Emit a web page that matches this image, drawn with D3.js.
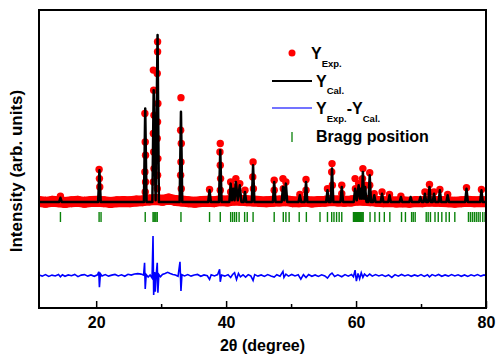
<!DOCTYPE html>
<html>
<head>
<meta charset="utf-8">
<script src="https://cdn.jsdelivr.net/npm/d3@7"></script>
<style>
  body { margin: 0; background: #fff; }
  svg { display: block; }
  text { font-family: "Liberation Sans", Arial, sans-serif; font-weight: bold; }
</style>
</head>
<body>
<div id="graph"></div>
<script>

// x tick labels
var xTicks = [20, 40, 60, 80];
var xMinorTicks = [30, 50, 70];

// experimental background (2theta, intensity)
var yExpBg = [
  [11.2,0.3],[12.2,-0.2],[13.2,0.4],[14.2,0.1],[15.2,-0.3],[16.2,0.2],[17.2,0.4],[18.2,-0.2],
  [19.2,0.3],[20.2,0.5],[21.2,0.2],[22.2,-0.3],[23.2,0.1],[24.2,0.3],[25.2,0.2],[26.2,0.6],
  [27.2,0.8],[28.2,1.2],[29.2,1.5],[30.2,1.0],[31.2,1.8],[32.2,0.9],[33.2,0.6],[34.2,0.2],
  [35.2,-0.2],[36.2,0.3],[37.2,0.5],[38.2,0.2],[39.2,0.8],[40.2,0.6],[41.2,1.2],[42.2,1.0],
  [43.2,0.8],[44.2,0.6],[45.2,0.3],[46.2,0.1],[47.2,0.4],[48.2,0.6],[49.2,0.8],[50.2,0.2],
  [51.2,0.1],[52.2,0.5],[53.2,0.0],[54.2,0.3],[55.2,0.5],[56.2,0.9],[57.2,0.6],[58.2,0.4],
  [59.2,0.6],[60.2,1.2],[61.2,1.0],[62.2,0.8],[63.2,0.4],[64.2,0.2],[65.2,0.3],[66.2,0.0],
  [67.2,0.2],[68.2,-0.1],[69.2,0.3],[70.2,0.2],[71.2,0.6],[72.2,0.4],[73.2,0.3],[74.2,0.1],
  [75.2,-0.1],[76.2,0.2],[77.2,0.4],[78.2,0.1],[79.2,0.3],[80.0,0.2]
];

// experimental points on the peaks
var yExpPeaks = [
  [14.5,3.5],
  [20.45,19.5],[20.5,14],[20.55,9],
  [27.5,53],[27.55,36],[27.6,28],[27.5,18],[27.6,12],[27.55,6],
  [28.8,79],[28.85,67],[28.9,52],[28.8,41],[28.85,30],[28.9,20],[28.8,12],
  [29.45,96],[29.45,90],[29.4,77],[29.5,59],[29.45,48],[29.4,38],[29.5,26],[29.45,16],[29.4,8],
  [33.05,62.5],[33.0,43],[33.1,35],[33.05,24],[33.0,16],[33.1,8],
  [37.45,7.5],
  [39.1,35],[39.05,30],[39.1,22],[39.15,14],[39.1,7],
  [40.7,12],[40.7,6],[41.1,9],[41.5,14],[41.45,8],[42.1,11],[42.9,7],
  [44.15,24],[44.1,15],[44.2,8],
  [47.4,13],[47.4,7],[48.75,14],[48.8,8],[49.2,12],[51.35,4.5],[52.3,13.5],[52.3,7],
  [55.6,8],[56.3,23],[56.25,18],[56.35,10],[57.8,10],[57.8,5],
  [59.85,14],[59.9,8],[60.4,11],[60.75,9],[61.05,20],[61.0,14],[61.1,8],[61.4,10],[62.1,17.5],[62.1,10],
  [62.8,5],[64.0,6],[65.15,4.5],[66.9,3.5],[70.6,6],[71.3,10.5],[71.3,6],[72.0,6],[72.9,7.5],
  [74.1,4.5],[77.0,8.5],[79.3,7.5]
];

// calculated profile
var yCal = [
  [11.2,0],
  [14.3,0],[14.5,2.5],[14.7,0],
  [20.3,0],[20.5,19],[20.7,0],
  [27.35,0],[27.55,56],[27.75,0],
  [28.65,0],[28.85,67],[29.15,1],[29.45,100],[29.65,0],
  [32.85,0],[33.05,54],[33.25,0],
  [37.25,0],[37.45,7],[37.65,0],
  [38.9,0],[39.1,31],[39.3,0],
  [40.5,0],[40.7,11],[40.9,1],[41.1,8],[41.3,1],[41.5,12],[41.8,1],[42.1,10],[42.35,0],
  [42.7,0],[42.9,6],[43.1,0],
  [43.95,0],[44.15,22],[44.35,0],
  [47.2,0],[47.4,12],[47.6,0],
  [48.55,0],[48.75,9],[48.95,1],[49.2,11],[49.4,0],
  [51.15,0],[51.35,4],[51.55,0],
  [52.1,0],[52.3,12],[52.5,0],
  [55.4,0],[55.6,7],[55.8,0],
  [56.1,0],[56.3,20],[56.5,0],
  [57.6,0],[57.8,9],[58.0,0],
  [59.65,0],[59.85,8],[60.1,1],[60.4,10],[60.6,2],[60.75,8],[60.9,2],[61.05,18],[61.25,2],[61.4,9],[61.6,0],
  [61.9,0],[62.1,16],[62.3,0],
  [62.6,0],[62.8,4],[63.0,0],
  [63.8,0],[64.0,5],[64.2,0],
  [64.95,0],[65.15,4],[65.35,0],
  [66.7,0],[66.9,3],[67.1,0],
  [68.2,0],[68.4,3],[68.6,0],
  [69.7,0],[69.9,3],[70.1,0],
  [70.4,0],[70.6,5],[70.8,0],[71.1,0],[71.3,9],[71.5,0],
  [71.8,0],[72.0,5],[72.2,0],
  [72.7,0],[72.9,7],[73.1,0],
  [73.9,0],[74.1,4],[74.3,0],
  [76.8,0],[77.0,8],[77.2,0],
  [79.1,0],[79.3,7],[79.5,0],
  [80,0]
];

// Yexp - Ycal
var yDiff = [
  [11.2,0.3],[11.7,-0.4],[12.2,0.5],[12.7,-0.6],[13.2,0.2],[13.7,-0.3],[14.2,0.6],[14.5,-0.8],
  [14.8,0.4],[15.2,-0.5],[15.7,0.3],[16.2,-0.2],[16.7,0.6],[17.2,-0.7],[17.7,0.2],[18.2,0.5],
  [18.7,-0.4],[19.2,0.3],[19.7,-0.5],[20.2,0.4],[20.4,2.2],[20.5,-7],[20.65,1],[20.9,-0.3],
  [21.4,0.5],[21.9,-0.4],[22.4,0.2],[22.9,0.6],[23.4,-0.3],[23.9,0.4],[24.4,-0.5],[24.9,0.7],
  [25.4,0.2],[25.9,0.9],[26.4,1.1],[26.9,0.8],[27.3,0.2],[27.45,7.6],[27.55,-8.1],[27.7,0.5],
  [28.0,-1],[28.3,0.3],[28.6,-1.5],[28.75,23.6],[28.85,-11.7],[29.0,2],[29.1,-9.8],[29.25,1],
  [29.4,7.6],[29.5,-10.4],[29.65,0.5],[29.9,-0.8],[30.2,0.6],[30.6,1.2],[31.0,1.9],[31.4,1.2],
  [31.8,0.6],[32.2,0.3],[32.6,-0.5],[32.9,8.2],[33.05,-9.3],[33.2,0.4],[33.6,-0.3],[34.1,0.5],
  [34.6,-0.4],[35.1,0.3],[35.6,0.6],[36.1,-0.5],[36.6,0.3],[37.1,-0.2],[37.45,-2.4],[37.7,0.4],
  [38.2,-0.3],[38.7,0.5],[39.0,3.7],[39.1,-3.8],[39.3,0.3],[39.8,-0.4],[40.3,0.5],[40.7,-1.2],
  [41.0,0.6],[41.3,1.6],[41.6,-2.4],[41.9,1.2],[42.2,-0.8],[42.6,0.4],[43.0,-1.0],[43.4,0.5],
  [43.8,-0.3],[44.15,-3.0],[44.4,0.5],[44.9,-0.4],[45.4,0.3],[45.9,-0.6],[46.4,0.5],[46.9,-0.3],
  [47.4,-1.0],[47.8,0.4],[48.3,-0.5],[48.75,2.4],[48.9,-1.2],[49.2,0.8],[49.6,-0.4],[50.1,0.6],
  [50.6,-0.3],[51.1,0.4],[51.5,-2.2],[51.9,0.5],[52.3,-1.2],[52.7,0.6],[53.2,-0.5],[53.7,0.3],
  [54.2,-0.6],[54.7,0.4],[55.2,-0.3],[55.6,-1.6],[56.0,0.5],[56.3,1.4],[56.7,-0.6],[57.2,0.4],
  [57.8,-0.8],[58.3,0.5],[58.8,-0.4],[59.3,0.6],[59.6,-0.8],[59.85,3.2],[60.05,-3.4],[60.3,1.2],
  [60.55,-2.0],[60.8,1.6],[61.05,-1.2],[61.3,0.8],[61.7,-0.5],[62.1,0.8],[62.5,-0.4],[63.0,0.5],
  [63.5,-0.3],[64.0,0.4],[64.5,-0.6],[65.0,0.3],[65.5,-1.2],[66.0,0.5],[66.5,-0.4],[67.0,0.6],
  [67.5,-0.3],[68.0,0.4],[68.5,-0.5],[69.0,0.3],[69.5,-0.4],[70.0,0.5],[70.5,-0.6],[71.0,0.4],
  [71.3,-0.9],[71.7,0.5],[72.2,-0.3],[72.7,0.6],[73.2,-0.5],[73.7,0.3],[74.2,-0.4],[74.7,0.5],
  [75.2,-0.3],[75.7,0.4],[76.2,-0.5],[76.7,0.3],[77.2,-0.6],[77.7,0.4],[78.2,-0.3],[78.7,0.5],
  [79.2,-0.4],[79.7,0.3],[80.0,-0.2]
];

// Bragg reflection positions
var braggPos = [
  14.5, 20.45, 20.75, 27.55, 28.75, 28.9, 29.05, 29.2, 29.4, 33.05, 37.45, 39.1,
  40.7, 41.0, 41.3, 41.6, 42.0, 42.85, 43.25, 44.15, 47.4, 48.8, 49.2, 49.7, 51.25, 52.35,
  54.45, 55.6, 56.25, 56.6, 57.0, 57.4, 57.8, 59.6, 59.75, 59.9, 60.05, 60.2, 60.35, 60.5,
  60.65, 60.8, 60.95, 61.1, 62.15, 62.9, 63.6, 64.35, 65.2, 67.0, 67.6, 68.55, 68.8, 69.1,
  70.8, 71.1, 71.45, 72.15, 72.65, 73.2, 73.85, 74.35, 75.2, 77.3, 77.6, 77.9, 78.2, 78.5,
  78.8, 79.1, 79.5, 79.85
];

var diffOffset = -44;
var braggRange = [-6, -12];

var margin = {top: 10, right: 13, bottom: 53, left: 39};
var width = 499 - margin.left - margin.right;
var height = 361 - margin.top - margin.bottom;

var root = d3.select('#graph')
  .append('svg')
    .attr("width", width + margin.left + margin.right)
    .attr("height", height + margin.top + margin.bottom);

var svg = root.append("g")
    .attr("transform", "translate(" + margin.left + "," + margin.top + ")");

var x = d3.scaleLinear()
  .domain([11.2, 80])
  .range([0, width]);

var y = d3.scaleLinear()
  .domain([-63.5, 115])
  .range([height, 0]);

svg.append("clipPath")
    .attr("id", "plot-clip")
  .append("rect")
    .attr("width", width)
    .attr("height", height);

var plot = svg.append("g").attr("clip-path", "url(#plot-clip)");

var line = d3.line()
  .x(function(d) { return x(d[0]); })
  .y(function(d) { return y(d[1]); });

// experimental background band
plot.append("path")
    .datum(yExpBg)
    .attr("fill", "none")
    .attr("stroke", "#ff0000")
    .attr("stroke-width", 11)
    .attr("stroke-linejoin", "round")
    .attr("d", line);

plot.selectAll(".bg-dot")
  .data(yExpBg)
  .enter().append("circle")
    .attr("class", "bg-dot")
    .attr("cx", function(d) { return x(d[0]); })
    .attr("cy", function(d) { return y(d[1]); })
    .attr("r", 5.5)
    .attr("fill", "#ff0000");

// experimental peak points
plot.selectAll(".exp-dot")
  .data(yExpPeaks)
  .enter().append("circle")
    .attr("class", "exp-dot")
    .attr("cx", function(d) { return x(d[0]); })
    .attr("cy", function(d) { return y(d[1]); })
    .attr("r", 3.7)
    .attr("fill", "#ff0000");

// calculated
plot.append("path")
    .datum(yCal)
    .attr("fill", "none")
    .attr("stroke", "black")
    .attr("stroke-width", 2.5)
    .attr("stroke-linejoin", "round")
    .attr("d", line);

// Bragg ticks
plot.selectAll(".bragg")
  .data(braggPos)
  .enter().append("line")
    .attr("class", "bragg")
    .attr("x1", function(d) { return x(d); })
    .attr("x2", function(d) { return x(d); })
    .attr("y1", y(braggRange[0]))
    .attr("y2", y(braggRange[1]))
    .attr("stroke", "#0a820a")
    .attr("stroke-width", 1.4);

// difference curve
plot.append("path")
    .datum(yDiff)
    .attr("fill", "none")
    .attr("stroke", "#0000ff")
    .attr("stroke-width", 1.6)
    .attr("d", d3.line()
      .x(function(d) { return x(d[0]); })
      .y(function(d) { return y(d[1] + diffOffset); })
    );

// X axis (ticks inside)
var xAxis = svg.append("g")
    .attr("transform", "translate(0," + height + ")")
    .call(d3.axisBottom(x).tickValues(xTicks).tickSize(-7).tickPadding(9).tickFormat(d3.format("d")));
xAxis.attr("font-size", 16)
    .attr("font-family", '"Liberation Sans", Arial, sans-serif');
xAxis.select(".domain").remove();
xAxis.selectAll("line").attr("stroke-width", 1.5);
xAxis.selectAll("text").attr("font-weight", "bold").attr("fill", "black");

var xMinor = svg.append("g")
    .attr("transform", "translate(0," + height + ")")
    .call(d3.axisBottom(x).tickValues(xMinorTicks).tickSize(-4).tickFormat(""));
xMinor.select(".domain").remove();
xMinor.selectAll("line").attr("stroke-width", 1.5);

// frame
svg.append("rect")
    .attr("width", width)
    .attr("height", height)
    .attr("fill", "none")
    .attr("stroke", "black")
    .attr("stroke-width", 2);

// X axis name
svg.append("text")
    .attr("class", "x-label")
    .attr("text-anchor", "middle")
    .attr("x", width / 2)
    .attr("y", height + 43)
    .attr("font-size", 16)
    .text("2\u03b8 (degree)");

// Y axis name
root.append("text")
    .attr("class", "y-label")
    .attr("text-anchor", "middle")
    .attr("transform", "translate(22,171) rotate(-90)")
    .attr("font-size", 17)
    .text("Intensity (arb. units)");

// legend
var legend = root.append("g").attr("class", "legend");

legend.append("circle")
    .attr("cx", 292).attr("cy", 53).attr("r", 3.5)
    .attr("fill", "#ff0000");
var t1 = legend.append("text").attr("x", 311).attr("y", 59).attr("font-size", 16);
t1.append("tspan").text("Y");
t1.append("tspan").attr("font-size", 9.5).attr("dy", 7.5).text("Exp.");

legend.append("line")
    .attr("x1", 272).attr("x2", 312).attr("y1", 81).attr("y2", 81)
    .attr("stroke", "black").attr("stroke-width", 1.8);
var t2 = legend.append("text").attr("x", 316).attr("y", 87).attr("font-size", 16);
t2.append("tspan").text("Y");
t2.append("tspan").attr("font-size", 9.5).attr("dy", 6.5).text("Cal.");

legend.append("line")
    .attr("x1", 272).attr("x2", 312).attr("y1", 108).attr("y2", 108)
    .attr("stroke", "#4444ff").attr("stroke-width", 1.5);
var t3 = legend.append("text").attr("x", 316).attr("y", 114).attr("font-size", 16);
t3.append("tspan").text("Y");
t3.append("tspan").attr("font-size", 9.5).attr("dy", 7.5).text("Exp.");
t3.append("tspan").attr("dy", -7.5).text("-Y");
t3.append("tspan").attr("font-size", 9.5).attr("dy", 7.5).text("Cal.");

legend.append("line")
    .attr("x1", 292).attr("x2", 292).attr("y1", 132).attr("y2", 142)
    .attr("stroke", "#0a820a").attr("stroke-width", 1.3);
legend.append("text")
    .attr("x", 316).attr("y", 142)
    .attr("font-size", 16)
    .text("Bragg position");

</script>
</body>
</html>
